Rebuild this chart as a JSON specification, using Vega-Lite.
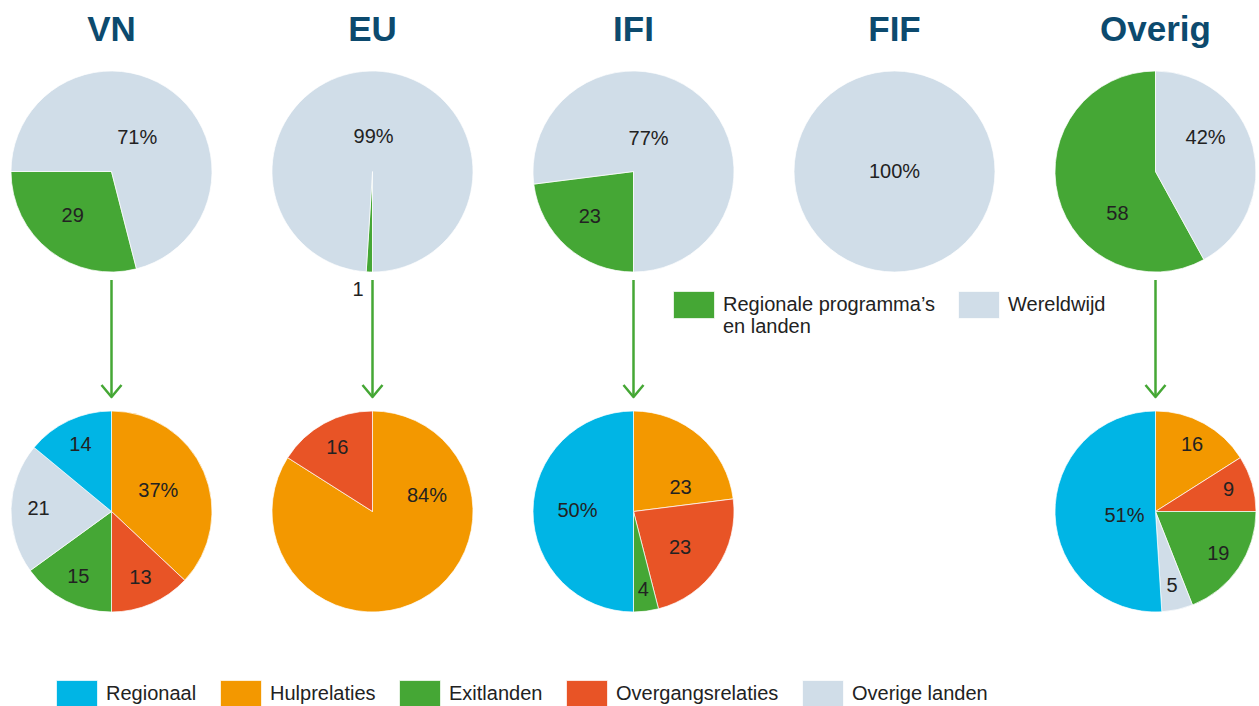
{
  "$schema": "https://vega.github.io/schema/vega-lite/v6.json",
  "background": "white",
  "padding": {"left": 10, "top": 12, "right": 0, "bottom": 0},
  "config": {
    "view": {"stroke": null},
    "font": "Liberation Sans",
    "title": {"font": "Liberation Sans", "fontSize": 35, "fontWeight": "bold", "color": "#0c4a6e", "baseline": "alphabetic", "offset": 23, "anchor": "middle"},
    "text": {"font": "Liberation Sans", "fontSize": 20, "color": "#222222"},
    "arc": {"stroke": "#ffffff", "strokeWidth": 0.7, "strokeJoin": "round"},
    "legend": {"labelFont": "Liberation Sans", "labelFontSize": 20, "labelColor": "#222222", "padding": 0, "symbolStrokeWidth": 0, "symbolOpacity": 1, "labelOffset": 8, "columnPadding": 23, "labelLimit": 400}
  },
  "datasets": {
    "top": [
      {"pie": "VN", "group": "Regionale programma’s en landen", "pct": 29, "label": "29", "k": 1},
      {"pie": "VN", "group": "Wereldwijd", "pct": 71, "label": "71%", "k": 2},
      {"pie": "EU", "group": "Regionale programma’s en landen", "pct": 1, "label": "1", "k": 1},
      {"pie": "EU", "group": "Wereldwijd", "pct": 99, "label": "99%", "k": 2},
      {"pie": "IFI", "group": "Regionale programma’s en landen", "pct": 23, "label": "23", "k": 1},
      {"pie": "IFI", "group": "Wereldwijd", "pct": 77, "label": "77%", "k": 2},
      {"pie": "FIF", "group": "Wereldwijd", "pct": 100, "label": "100%", "k": 2},
      {"pie": "Overig", "group": "Regionale programma’s en landen", "pct": 58, "label": "58", "k": 1},
      {"pie": "Overig", "group": "Wereldwijd", "pct": 42, "label": "42%", "k": 2}
    ],
    "bottom": [
      {"pie": "VN", "cat": "Hulprelaties", "pct": 37, "label": "37%", "k": 1},
      {"pie": "VN", "cat": "Overgangsrelaties", "pct": 13, "label": "13", "k": 2},
      {"pie": "VN", "cat": "Exitlanden", "pct": 15, "label": "15", "k": 3},
      {"pie": "VN", "cat": "Overige landen", "pct": 21, "label": "21", "k": 4},
      {"pie": "VN", "cat": "Regionaal", "pct": 14, "label": "14", "k": 5},
      {"pie": "EU", "cat": "Hulprelaties", "pct": 84, "label": "84%", "k": 1},
      {"pie": "EU", "cat": "Overgangsrelaties", "pct": 16, "label": "16", "k": 2},
      {"pie": "IFI", "cat": "Hulprelaties", "pct": 23, "label": "23", "k": 1},
      {"pie": "IFI", "cat": "Overgangsrelaties", "pct": 23, "label": "23", "k": 2},
      {"pie": "IFI", "cat": "Exitlanden", "pct": 4, "label": "4", "k": 3},
      {"pie": "IFI", "cat": "Regionaal", "pct": 50, "label": "50%", "k": 5},
      {"pie": "Overig", "cat": "Hulprelaties", "pct": 16, "label": "16", "k": 1},
      {"pie": "Overig", "cat": "Overgangsrelaties", "pct": 9, "label": "9", "k": 2},
      {"pie": "Overig", "cat": "Exitlanden", "pct": 19, "label": "19", "k": 3},
      {"pie": "Overig", "cat": "Overige landen", "pct": 5, "label": "5", "k": 4},
      {"pie": "Overig", "cat": "Regionaal", "pct": 51, "label": "51%", "k": 5}
    ],
    "arrow": [{"n": 1}]
  },
  "spacing": 5,
  "resolve": {"scale": {"theta": "independent", "color": "independent", "x": "independent", "y": "independent"}},
  "vconcat": [
    {
      "spacing": 60,
      "bounds": "flush",
      "resolve": {"scale": {"theta": "independent", "color": "independent"}},
      "hconcat": [
        {
          "title": "VN", "width": 201, "height": 201,
          "data": {"name": "top"},
          "transform": [{"filter": "datum.pie == 'VN'"}],
          "encoding": {
            "theta": {"field": "pct", "type": "quantitative", "stack": true, "scale": {"domain": [0, 100], "range": [2.8903, 9.1735]}},
            "order": {"field": "k", "type": "quantitative"}
          },
          "layer": [
            {"mark": {"type": "arc"}, "encoding": {"color": {"field": "group", "type": "nominal", "scale": {"domain": ["Regionale programma’s en landen", "Wereldwijd"], "range": ["#45a735", "#d0dde8"]}, "legend": null}}},
            {"mark": {"type": "text", "radius": 42}, "encoding": {"text": {"condition": {"test": "datum.group == 'Wereldwijd'", "field": "label", "type": "nominal"}, "value": ""}}},
            {"mark": {"type": "text", "radius": 60, "dx": -2, "dy": -3}, "encoding": {"text": {"condition": {"test": "datum.group != 'Wereldwijd'", "field": "label", "type": "nominal"}, "value": ""}}}
          ]
        },
        {
          "title": "EU", "width": 201, "height": 201,
          "data": {"name": "top"},
          "transform": [{"filter": "datum.pie == 'EU'"}],
          "encoding": {
            "theta": {"field": "pct", "type": "quantitative", "stack": true, "scale": {"domain": [0, 100], "range": [3.1416, 9.4248]}},
            "order": {"field": "k", "type": "quantitative"}
          },
          "layer": [
            {"mark": {"type": "arc"}, "encoding": {"color": {"field": "group", "type": "nominal", "scale": {"domain": ["Regionale programma’s en landen", "Wereldwijd"], "range": ["#45a735", "#d0dde8"]}, "legend": null}}},
            {"mark": {"type": "text", "radius": 35}, "encoding": {"text": {"condition": {"test": "datum.group == 'Wereldwijd'", "field": "label", "type": "nominal"}, "value": ""}}}
          ]
        },
        {
          "title": "IFI", "width": 201, "height": 201,
          "data": {"name": "top"},
          "transform": [{"filter": "datum.pie == 'IFI'"}],
          "encoding": {
            "theta": {"field": "pct", "type": "quantitative", "stack": true, "scale": {"domain": [0, 100], "range": [3.1416, 9.4248]}},
            "order": {"field": "k", "type": "quantitative"}
          },
          "layer": [
            {"mark": {"type": "arc"}, "encoding": {"color": {"field": "group", "type": "nominal", "scale": {"domain": ["Regionale programma’s en landen", "Wereldwijd"], "range": ["#45a735", "#d0dde8"]}, "legend": null}}},
            {"mark": {"type": "text", "radius": 38, "dx": -10, "dy": -4}, "encoding": {"text": {"condition": {"test": "datum.group == 'Wereldwijd'", "field": "label", "type": "nominal"}, "value": ""}}},
            {"mark": {"type": "text", "radius": 60, "dx": -4}, "encoding": {"text": {"condition": {"test": "datum.group != 'Wereldwijd'", "field": "label", "type": "nominal"}, "value": ""}}}
          ]
        },
        {
          "title": "FIF", "width": 201, "height": 201,
          "data": {"name": "top"},
          "transform": [{"filter": "datum.pie == 'FIF'"}],
          "encoding": {
            "theta": {"field": "pct", "type": "quantitative", "stack": true, "scale": {"domain": [0, 100], "range": [0, 6.2832]}},
            "order": {"field": "k", "type": "quantitative"}
          },
          "layer": [
            {"mark": {"type": "arc"}, "encoding": {"color": {"field": "group", "type": "nominal", "scale": {"domain": ["Regionale programma’s en landen", "Wereldwijd"], "range": ["#45a735", "#d0dde8"]}, "legend": null}}},
            {"mark": {"type": "text", "radius": 0}, "encoding": {"text": {"field": "label", "type": "nominal"}}}
          ]
        },
        {
          "title": "Overig", "width": 201, "height": 201,
          "data": {"name": "top"},
          "transform": [{"filter": "datum.pie == 'Overig'"}],
          "encoding": {
            "theta": {"field": "pct", "type": "quantitative", "stack": true, "scale": {"domain": [0, 100], "range": [2.6390, 8.9222]}},
            "order": {"field": "k", "type": "quantitative"}
          },
          "layer": [
            {"mark": {"type": "arc"}, "encoding": {"color": {"field": "group", "type": "nominal", "scale": {"domain": ["Regionale programma’s en landen", "Wereldwijd"], "range": ["#45a735", "#d0dde8"]}, "legend": null}}},
            {"mark": {"type": "text", "radius": 60, "dx": -8, "dy": -19}, "encoding": {"text": {"condition": {"test": "datum.group == 'Wereldwijd'", "field": "label", "type": "nominal"}, "value": ""}}},
            {"mark": {"type": "text", "radius": 60, "dx": 20, "dy": 28}, "encoding": {"text": {"condition": {"test": "datum.group != 'Wereldwijd'", "field": "label", "type": "nominal"}, "value": ""}}}
          ]
        }
      ]
    },
    {
      "spacing": 11,
      "resolve": {"scale": {"theta": "independent", "color": "independent", "x": "independent", "y": "independent"}},
      "vconcat": [
        {
          "spacing": 60,
          "bounds": "flush",
          "resolve": {"scale": {"x": "independent", "y": "independent", "color": "independent"}},
          "hconcat": [
            {
              "width": 201, "height": 117, "data": {"name": "arrow"},
              "layer": [
                {"mark": {"type": "rule", "color": "#45a735", "strokeWidth": 2.5, "strokeJoin": "round"}, "encoding": {"x": {"datum": 0, "type": "quantitative", "scale": {"domain": [-1, 1]}, "axis": null}}},
                {"mark": {"type": "point", "shape": "M-1,-1.2L0,0L1,-1.2", "filled": false, "color": "#45a735", "strokeWidth": 2.5, "strokeJoin": "round", "size": 400, "opacity": 1}, "encoding": {"x": {"datum": 0, "type": "quantitative", "scale": {"domain": [-1, 1]}, "axis": null}, "y": {"datum": 0, "type": "quantitative", "scale": {"domain": [0, 1]}, "axis": null}}}
              ]
            },
            {
              "width": 201, "height": 117,
              "data": {"name": "top"},
              "transform": [{"filter": "datum.pie == 'EU' && datum.group != 'Wereldwijd'"}],
              "layer": [
                {"mark": {"type": "rule", "color": "#45a735", "strokeWidth": 2.5, "strokeJoin": "round"}, "encoding": {"x": {"datum": 0, "type": "quantitative", "scale": {"domain": [-1, 1]}, "axis": null}}},
                {"mark": {"type": "point", "shape": "M-1,-1.2L0,0L1,-1.2", "filled": false, "color": "#45a735", "strokeWidth": 2.5, "strokeJoin": "round", "size": 400, "opacity": 1}, "encoding": {"x": {"datum": 0, "type": "quantitative", "scale": {"domain": [-1, 1]}, "axis": null}, "y": {"datum": 0, "type": "quantitative", "scale": {"domain": [0, 1]}, "axis": null}}},
                {"mark": {"type": "text"}, "encoding": {"x": {"datum": -0.144, "type": "quantitative", "scale": {"domain": [-1, 1]}, "axis": null}, "y": {"datum": 0.915, "type": "quantitative", "scale": {"domain": [0, 1]}, "axis": null}, "text": {"field": "label", "type": "nominal"}}}
              ]
            },
            {
              "width": 201, "height": 117, "data": {"name": "arrow"},
              "layer": [
                {"mark": {"type": "rule", "color": "#45a735", "strokeWidth": 2.5, "strokeJoin": "round"}, "encoding": {"x": {"datum": 0, "type": "quantitative", "scale": {"domain": [-1, 1]}, "axis": null}}},
                {"mark": {"type": "point", "shape": "M-1,-1.2L0,0L1,-1.2", "filled": false, "color": "#45a735", "strokeWidth": 2.5, "strokeJoin": "round", "size": 400, "opacity": 1}, "encoding": {"x": {"datum": 0, "type": "quantitative", "scale": {"domain": [-1, 1]}, "axis": null}, "y": {"datum": 0, "type": "quantitative", "scale": {"domain": [0, 1]}, "axis": null}}}
              ]
            },
            {
              "width": 201, "height": 117,
              "data": {"name": "top"},
              "transform": [{"filter": "datum.pie == 'FIF'"}],
              "mark": {"type": "arc", "radius": 0, "strokeWidth": 0},
              "encoding": {"color": {"field": "group", "type": "nominal", "scale": {"domain": ["Regionale programma’s en landen", "Wereldwijd"], "range": ["#45a735", "#d0dde8"]},
                "legend": {"orient": "none", "legendX": -121, "legendY": 4, "direction": "horizontal", "title": null, "symbolType": "M-1,-0.66L1,-0.66L1,0.66L-1,0.66Z", "symbolSize": 1681, "symbolOpacity": 1,
                  "labelExpr": "datum.label == 'Wereldwijd' ? ['Wereldwijd', ''] : ['Regionale programma’s', 'en landen']"}}}
            },
            {
              "width": 201, "height": 117, "data": {"name": "arrow"},
              "layer": [
                {"mark": {"type": "rule", "color": "#45a735", "strokeWidth": 2.5, "strokeJoin": "round"}, "encoding": {"x": {"datum": 0, "type": "quantitative", "scale": {"domain": [-1, 1]}, "axis": null}}},
                {"mark": {"type": "point", "shape": "M-1,-1.2L0,0L1,-1.2", "filled": false, "color": "#45a735", "strokeWidth": 2.5, "strokeJoin": "round", "size": 400, "opacity": 1}, "encoding": {"x": {"datum": 0, "type": "quantitative", "scale": {"domain": [-1, 1]}, "axis": null}, "y": {"datum": 0, "type": "quantitative", "scale": {"domain": [0, 1]}, "axis": null}}}
              ]
            }
          ]
        },
        {
          "spacing": 60,
          "bounds": "flush",
          "resolve": {"scale": {"theta": "independent", "color": "independent"}},
          "hconcat": [
            {
              "width": 201, "height": 201,
              "data": {"name": "bottom"},
              "transform": [{"filter": "datum.pie == 'VN'"}],
              "encoding": {
                "theta": {"field": "pct", "type": "quantitative", "stack": true, "scale": {"domain": [0, 100], "range": [0, 6.2832]}},
                "order": {"field": "k", "type": "quantitative"}
              },
              "layer": [
                {"mark": {"type": "arc"}, "encoding": {"color": {"field": "cat", "type": "nominal", "scale": {"domain": ["Regionaal", "Hulprelaties", "Exitlanden", "Overgangsrelaties", "Overige landen"], "range": ["#00b5e5", "#f39800", "#45a735", "#e85426", "#d0dde8"]},
                  "legend": {"orient": "none", "legendX": 45, "legendY": 262, "direction": "horizontal", "title": null, "symbolType": "M-1,-0.66L1,-0.66L1,0.66L-1,0.66Z", "symbolSize": 1681}}}},
                {"mark": {"type": "text", "radius": 51}, "encoding": {"text": {"condition": {"test": "datum.pct >= 30", "field": "label", "type": "nominal"}, "value": ""}}},
                {"mark": {"type": "text", "radius": 73}, "encoding": {"text": {"condition": {"test": "datum.pct < 30", "field": "label", "type": "nominal"}, "value": ""}}}
              ]
            },
            {
              "width": 201, "height": 201,
              "data": {"name": "bottom"},
              "transform": [{"filter": "datum.pie == 'EU'"}],
              "encoding": {
                "theta": {"field": "pct", "type": "quantitative", "stack": true, "scale": {"domain": [0, 100], "range": [0, 6.2832]}},
                "order": {"field": "k", "type": "quantitative"}
              },
              "layer": [
                {"mark": {"type": "arc"}, "encoding": {"color": {"field": "cat", "type": "nominal", "scale": {"domain": ["Regionaal", "Hulprelaties", "Exitlanden", "Overgangsrelaties", "Overige landen"], "range": ["#00b5e5", "#f39800", "#45a735", "#e85426", "#d0dde8"]}, "legend": null}}},
                {"mark": {"type": "text", "radius": 30, "dx": 40, "dy": -42}, "encoding": {"text": {"condition": {"test": "datum.pct >= 30", "field": "label", "type": "nominal"}, "value": ""}}},
                {"mark": {"type": "text", "radius": 73}, "encoding": {"text": {"condition": {"test": "datum.pct < 30", "field": "label", "type": "nominal"}, "value": ""}}}
              ]
            },
            {
              "width": 201, "height": 201,
              "data": {"name": "bottom"},
              "transform": [{"filter": "datum.pie == 'IFI'"}],
              "encoding": {
                "theta": {"field": "pct", "type": "quantitative", "stack": true, "scale": {"domain": [0, 100], "range": [0, 6.2832]}},
                "order": {"field": "k", "type": "quantitative"}
              },
              "layer": [
                {"mark": {"type": "arc"}, "encoding": {"color": {"field": "cat", "type": "nominal", "scale": {"domain": ["Regionaal", "Hulprelaties", "Exitlanden", "Overgangsrelaties", "Overige landen"], "range": ["#00b5e5", "#f39800", "#45a735", "#e85426", "#d0dde8"]}, "legend": null}}},
                {"mark": {"type": "text", "radius": 56}, "encoding": {"text": {"condition": {"test": "datum.pct >= 30", "field": "label", "type": "nominal"}, "value": ""}}},
                {"mark": {"type": "text", "radius": 53, "dx": 12, "dy": 16}, "encoding": {"text": {"condition": {"test": "datum.cat == 'Hulprelaties'", "field": "label", "type": "nominal"}, "value": ""}}},
                {"mark": {"type": "text", "radius": 60, "dx": -3, "dy": 3}, "encoding": {"text": {"condition": {"test": "datum.cat == 'Overgangsrelaties'", "field": "label", "type": "nominal"}, "value": ""}}},
                {"mark": {"type": "text", "radius": 79}, "encoding": {"text": {"condition": {"test": "datum.cat == 'Exitlanden'", "field": "label", "type": "nominal"}, "value": ""}}}
              ]
            },
            {
              "width": 201, "height": 201, "data": {"values": []}, "mark": "point"
            },
            {
              "width": 201, "height": 201,
              "data": {"name": "bottom"},
              "transform": [{"filter": "datum.pie == 'Overig'"}],
              "encoding": {
                "theta": {"field": "pct", "type": "quantitative", "stack": true, "scale": {"domain": [0, 100], "range": [0, 6.2832]}},
                "order": {"field": "k", "type": "quantitative"}
              },
              "layer": [
                {"mark": {"type": "arc"}, "encoding": {"color": {"field": "cat", "type": "nominal", "scale": {"domain": ["Regionaal", "Hulprelaties", "Exitlanden", "Overgangsrelaties", "Overige landen"], "range": ["#00b5e5", "#f39800", "#45a735", "#e85426", "#d0dde8"]}, "legend": null}}},
                {"mark": {"type": "text", "radius": 31, "dy": 4}, "encoding": {"text": {"condition": {"test": "datum.pct >= 30", "field": "label", "type": "nominal"}, "value": ""}}},
                {"mark": {"type": "text", "radius": 76}, "encoding": {"text": {"condition": {"test": "datum.pct < 30", "field": "label", "type": "nominal"}, "value": ""}}}
              ]
            }
          ]
        }
      ]
    }
  ]
}
